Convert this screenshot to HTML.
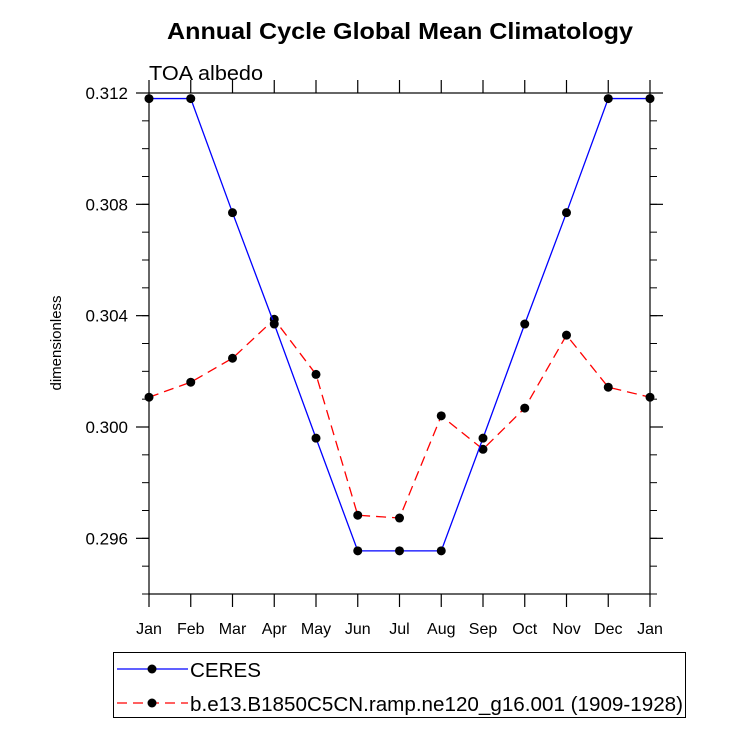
<!DOCTYPE html>
<html><head><meta charset="utf-8"><style>
body{margin:0;background:#fff}
svg text{font-family:"Liberation Sans",sans-serif}
</style></head><body>
<svg id="chart" width="733" height="725" xmlns="http://www.w3.org/2000/svg">
<text x="167" y="39" font-size="23" font-weight="bold" textLength="466" lengthAdjust="spacingAndGlyphs">Annual Cycle Global Mean Climatology</text>
<text x="149" y="80" font-size="20" textLength="114" lengthAdjust="spacingAndGlyphs">TOA albedo</text>
<text transform="translate(61,343) rotate(-90)" font-size="15" text-anchor="middle">dimensionless</text>
<g id="axes"></g>
<g id="series"></g>
<g>
<rect x="113.5" y="652.5" width="572" height="65" fill="none" stroke="#000" stroke-width="1"/>
<line x1="117" y1="669" x2="188" y2="669" stroke="#0000ff" stroke-width="1.3"/>
<circle cx="152" cy="669" r="4.5" fill="#000"/>
<text x="190" y="677" font-size="20" textLength="71" lengthAdjust="spacingAndGlyphs">CERES</text>
<line x1="117" y1="703" x2="188" y2="703" stroke="#ff0000" stroke-width="1.3" stroke-dasharray="10,6"/>
<circle cx="152" cy="703" r="4.5" fill="#000"/>
<text x="190" y="711" font-size="20" textLength="493" lengthAdjust="spacingAndGlyphs">b.e13.B1850C5CN.ramp.ne120_g16.001 (1909-1928)</text>
</g>
</svg>
<script>
const months = ["Jan","Feb","Mar","Apr","May","Jun","Jul","Aug","Sep","Oct","Nov","Dec","Jan"];
const ceres = [0.3118,0.3118,0.3077,0.3037,0.2996,0.29555,0.29555,0.29555,0.2996,0.3037,0.3077,0.3118,0.3118];
const model = [0.30107,0.30161,0.30247,0.30387,0.30189,0.29683,0.29673,0.30040,0.29920,0.30068,0.30330,0.30143,0.30107];
const yTicks = [0.296,0.300,0.304,0.308,0.312];
const yTickLabels = ["0.296","0.300","0.304","0.308","0.312"];
const yMin = 0.294, yMax = 0.312;
const L=149,R=650,T=93,B=594;
const NS="http://www.w3.org/2000/svg";
const xs = i => L + i*(R-L)/(months.length-1);
const ys = v => B - (v-yMin)/(yMax-yMin)*(B-T);
function mk(tag, attrs, parent){const e=document.createElementNS(NS,tag);for(const k in attrs)e.setAttribute(k,attrs[k]);parent.appendChild(e);return e;}
const ax=document.getElementById('axes');
const frame=mk('rect',{x:L,y:T,width:R-L,height:B-T,fill:'none',stroke:'#000','stroke-width':1.2},ax);


months.forEach((m,i)=>{
  const x=xs(i);
  mk('line',{x1:x,y1:B,x2:x,y2:B+13,stroke:'#000','stroke-width':1.2},ax);
  mk('line',{x1:x,y1:T,x2:x,y2:T-13,stroke:'#000','stroke-width':1.2},ax);
  const t=mk('text',{x:x,y:B+40,'font-size':16,'text-anchor':'middle'},ax);
  t.textContent=m;
  
  
});
for(let v=yMin; v<=yMax+1e-9; v+=0.001){
  const y=ys(v);
  mk('line',{x1:L,y1:y,x2:L-7,y2:y,stroke:'#000','stroke-width':1},ax);
  mk('line',{x1:R,y1:y,x2:R+7,y2:y,stroke:'#000','stroke-width':1},ax);
}
yTicks.forEach((v,i)=>{
  const y=ys(v);
  mk('line',{x1:L,y1:y,x2:L-13,y2:y,stroke:'#000','stroke-width':1.2},ax);
  mk('line',{x1:R,y1:y,x2:R+13,y2:y,stroke:'#000','stroke-width':1.2},ax);
  const t=mk('text',{x:128,y:y+6,'font-size':17,'text-anchor':'end'},ax);
  t.textContent=yTickLabels[i];
  
  
});
const sg=document.getElementById('series');
function draw(vals,color,dash,name){
  const p=mk('polyline',{points:vals.map((v,i)=>xs(i)+','+ys(v)).join(' '),fill:'none',stroke:color,'stroke-width':1.3,'stroke-dasharray':dash},sg);
  
  
  vals.forEach((v,i)=>{
    const c=mk('circle',{cx:xs(i),cy:ys(v),r:4.5,fill:'#000'},sg);
    
    
  });
}
draw(model,'#ff0000','10,6','model');
draw(ceres,'#0000ff','none','ceres');
</script>
</body></html>
